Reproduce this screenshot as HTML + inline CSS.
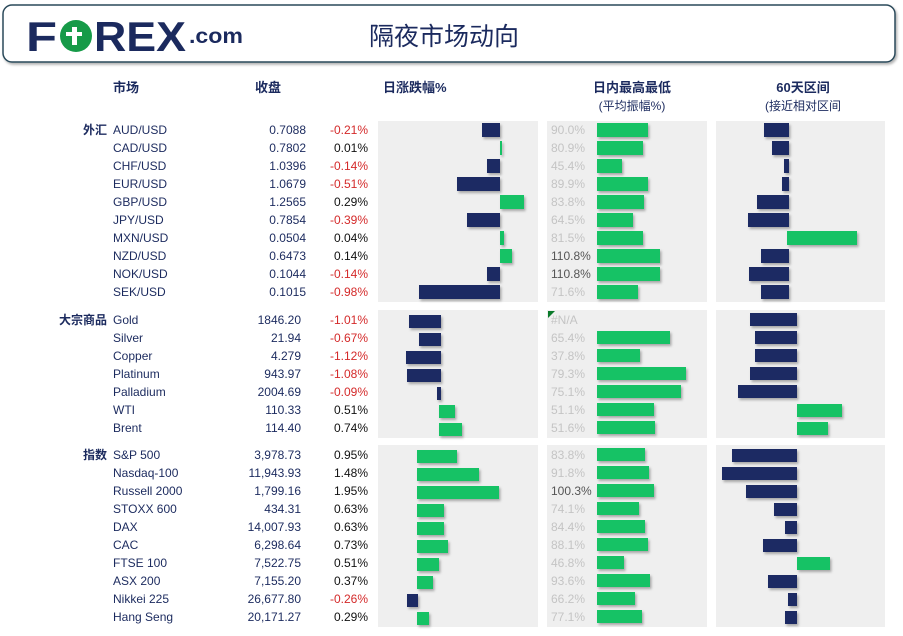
<!DOCTYPE html>
<html><head><meta charset="utf-8"><style>
body{margin:0;background:#fff;width:903px;height:636px;overflow:hidden}
svg{display:block;font-family:"Liberation Sans","Noto Sans CJK SC",sans-serif}
.n{fill:#1b2a5e;font-size:12px}
.v{fill:#1b2a5e;font-size:12px;text-anchor:end}
.r{fill:#d42a2a;font-size:12px;text-anchor:end}
.k{fill:#111;font-size:12px;text-anchor:end}
.p{fill:#c4c4c4;font-size:12px}
.pd{fill:#555;font-size:12px}
.h{fill:#1b2a5e;font-size:13px;font-weight:bold}
.b{fill:#1b2a63}.g{fill:#13c265}
</style></head><body>
<svg width="903" height="636" viewBox="0 0 903 636">
<defs><filter id="s" x="-20%" y="-30%" width="150%" height="180%"><feDropShadow dx="1.5" dy="2" stdDeviation="1.2" flood-color="#000" flood-opacity="0.3"/></filter></defs>
<rect x="3" y="5" width="892" height="57" rx="9" fill="#fff" stroke="#2b4a5a" stroke-width="1.5" filter="url(#s)"/>
<text x="26" y="51" font-size="42" font-weight="900" fill="#1b2a5e" textLength="31" lengthAdjust="spacingAndGlyphs">F</text>
<circle cx="76" cy="36" r="16" fill="#169a48"/>
<rect x="72" y="27" width="5" height="18" fill="#fff"/><rect x="66" y="32" width="16" height="4" fill="#fff"/>
<text x="94" y="51" font-size="42" font-weight="900" fill="#1b2a5e" textLength="92" lengthAdjust="spacingAndGlyphs">REX</text>
<text x="189" y="43" font-size="21" font-weight="bold" fill="#1b2a5e" textLength="54" lengthAdjust="spacingAndGlyphs">.com</text>
<text x="369" y="45" font-size="25" fill="#1b2a5e">隔夜市场动向</text>
<text x="113" y="92" class="h">市场</text>
<text x="255" y="92" class="h">收盘</text>
<text x="383" y="92" class="h">日涨跌幅%</text>
<text x="632" y="92" class="h" text-anchor="middle">日内最高最低</text>
<text x="632" y="110" class="n" text-anchor="middle">(平均振幅%)</text>
<text x="803" y="92" class="h" text-anchor="middle">60天区间</text>
<text x="803" y="110" class="n" text-anchor="middle">(接近相对区间</text>
<g fill="#efefef">
<rect x="378" y="121" width="160" height="181"/><rect x="547" y="121" width="160" height="181"/><rect x="716" y="121" width="169" height="181"/>
<rect x="378" y="310" width="160" height="128"/><rect x="547" y="310" width="160" height="128"/><rect x="716" y="310" width="169" height="128"/>
<rect x="378" y="445" width="160" height="182"/><rect x="547" y="445" width="160" height="182"/><rect x="716" y="445" width="169" height="182"/>
</g>
<text x="107" y="134" class="v" font-weight="bold">外汇</text>
<text x="107" y="324" class="v" font-weight="bold">大宗商品</text>
<text x="107" y="459" class="v" font-weight="bold">指数</text>
<g>
<text x="113" y="134" class="n">AUD/USD</text><text x="306" y="134" class="v">0.7088</text><text x="368" y="134" class="r">-0.21%</text>
<text x="113" y="152" class="n">CAD/USD</text><text x="306" y="152" class="v">0.7802</text><text x="368" y="152" class="k">0.01%</text>
<text x="113" y="170" class="n">CHF/USD</text><text x="306" y="170" class="v">1.0396</text><text x="368" y="170" class="r">-0.14%</text>
<text x="113" y="188" class="n">EUR/USD</text><text x="306" y="188" class="v">1.0679</text><text x="368" y="188" class="r">-0.51%</text>
<text x="113" y="206" class="n">GBP/USD</text><text x="306" y="206" class="v">1.2565</text><text x="368" y="206" class="k">0.29%</text>
<text x="113" y="224" class="n">JPY/USD</text><text x="306" y="224" class="v">0.7854</text><text x="368" y="224" class="r">-0.39%</text>
<text x="113" y="242" class="n">MXN/USD</text><text x="306" y="242" class="v">0.0504</text><text x="368" y="242" class="k">0.04%</text>
<text x="113" y="260" class="n">NZD/USD</text><text x="306" y="260" class="v">0.6473</text><text x="368" y="260" class="k">0.14%</text>
<text x="113" y="278" class="n">NOK/USD</text><text x="306" y="278" class="v">0.1044</text><text x="368" y="278" class="r">-0.14%</text>
<text x="113" y="296" class="n">SEK/USD</text><text x="306" y="296" class="v">0.1015</text><text x="368" y="296" class="r">-0.98%</text>
<text x="113" y="324" class="n">Gold</text><text x="301" y="324" class="v">1846.20</text><text x="368" y="324" class="r">-1.01%</text>
<text x="113" y="342" class="n">Silver</text><text x="301" y="342" class="v">21.94</text><text x="368" y="342" class="r">-0.67%</text>
<text x="113" y="360" class="n">Copper</text><text x="301" y="360" class="v">4.279</text><text x="368" y="360" class="r">-1.12%</text>
<text x="113" y="378" class="n">Platinum</text><text x="301" y="378" class="v">943.97</text><text x="368" y="378" class="r">-1.08%</text>
<text x="113" y="396" class="n">Palladium</text><text x="301" y="396" class="v">2004.69</text><text x="368" y="396" class="r">-0.09%</text>
<text x="113" y="414" class="n">WTI</text><text x="301" y="414" class="v">110.33</text><text x="368" y="414" class="k">0.51%</text>
<text x="113" y="432" class="n">Brent</text><text x="301" y="432" class="v">114.40</text><text x="368" y="432" class="k">0.74%</text>
<text x="113" y="459" class="n">S&amp;P 500</text><text x="301" y="459" class="v">3,978.73</text><text x="368" y="459" class="k">0.95%</text>
<text x="113" y="477" class="n">Nasdaq-100</text><text x="301" y="477" class="v">11,943.93</text><text x="368" y="477" class="k">1.48%</text>
<text x="113" y="495" class="n">Russell 2000</text><text x="301" y="495" class="v">1,799.16</text><text x="368" y="495" class="k">1.95%</text>
<text x="113" y="513" class="n">STOXX 600</text><text x="301" y="513" class="v">434.31</text><text x="368" y="513" class="k">0.63%</text>
<text x="113" y="531" class="n">DAX</text><text x="301" y="531" class="v">14,007.93</text><text x="368" y="531" class="k">0.63%</text>
<text x="113" y="549" class="n">CAC</text><text x="301" y="549" class="v">6,298.64</text><text x="368" y="549" class="k">0.73%</text>
<text x="113" y="567" class="n">FTSE 100</text><text x="301" y="567" class="v">7,522.75</text><text x="368" y="567" class="k">0.51%</text>
<text x="113" y="585" class="n">ASX 200</text><text x="301" y="585" class="v">7,155.20</text><text x="368" y="585" class="k">0.37%</text>
<text x="113" y="603" class="n">Nikkei 225</text><text x="301" y="603" class="v">26,677.80</text><text x="368" y="603" class="r">-0.26%</text>
<text x="113" y="621" class="n">Hang Seng</text><text x="301" y="621" class="v">20,171.27</text><text x="368" y="621" class="k">0.29%</text>
</g>
<g filter="url(#s)">
<rect class="b" x="482" y="123" width="18" height="14"/><rect class="g" x="500" y="141" width="2" height="14"/>
<rect class="b" x="487" y="159" width="13" height="14"/><rect class="b" x="457" y="177" width="43" height="14"/>
<rect class="g" x="500" y="195" width="24" height="14"/><rect class="b" x="467" y="213" width="33" height="14"/>
<rect class="g" x="500" y="231" width="4" height="14"/><rect class="g" x="500" y="249" width="12" height="14"/>
<rect class="b" x="487" y="267" width="13" height="14"/><rect class="b" x="419" y="285" width="81" height="14"/>
<rect class="b" x="409" y="315" width="32" height="13"/><rect class="b" x="419" y="333" width="22" height="13"/>
<rect class="b" x="406" y="351" width="35" height="13"/><rect class="b" x="407" y="369" width="34" height="13"/>
<rect class="b" x="437" y="387" width="4" height="13"/><rect class="g" x="439" y="405" width="16" height="13"/>
<rect class="g" x="439" y="423" width="23" height="13"/>
<rect class="g" x="417" y="450" width="40" height="13"/><rect class="g" x="417" y="468" width="62" height="13"/>
<rect class="g" x="417" y="486" width="82" height="13"/><rect class="g" x="417" y="504" width="27" height="13"/>
<rect class="g" x="417" y="522" width="27" height="13"/><rect class="g" x="417" y="540" width="31" height="13"/>
<rect class="g" x="417" y="558" width="22" height="13"/><rect class="g" x="417" y="576" width="16" height="13"/>
<rect class="b" x="407" y="594" width="11" height="13"/><rect class="g" x="417" y="612" width="12" height="13"/>
<rect class="g" x="597" y="123" width="51" height="14"/><rect class="g" x="597" y="141" width="46" height="14"/>
<rect class="g" x="597" y="159" width="25" height="14"/><rect class="g" x="597" y="177" width="51" height="14"/>
<rect class="g" x="597" y="195" width="47" height="14"/><rect class="g" x="597" y="213" width="36" height="14"/>
<rect class="g" x="597" y="231" width="46" height="14"/><rect class="g" x="597" y="249" width="63" height="14"/>
<rect class="g" x="597" y="267" width="63" height="14"/><rect class="g" x="597" y="285" width="41" height="14"/>
<rect class="g" x="597" y="331" width="73" height="13"/><rect class="g" x="597" y="349" width="43" height="13"/>
<rect class="g" x="597" y="367" width="89" height="13"/><rect class="g" x="597" y="385" width="84" height="13"/>
<rect class="g" x="597" y="403" width="57" height="13"/><rect class="g" x="597" y="421" width="58" height="13"/>
<rect class="g" x="597" y="448" width="48" height="13"/><rect class="g" x="597" y="466" width="52" height="13"/>
<rect class="g" x="597" y="484" width="57" height="13"/><rect class="g" x="597" y="502" width="42" height="13"/>
<rect class="g" x="597" y="520" width="48" height="13"/><rect class="g" x="597" y="538" width="51" height="13"/>
<rect class="g" x="597" y="556" width="27" height="13"/><rect class="g" x="597" y="574" width="53" height="13"/>
<rect class="g" x="597" y="592" width="38" height="13"/><rect class="g" x="597" y="610" width="45" height="13"/>
<rect class="b" x="764" y="123" width="25" height="14"/><rect class="b" x="772" y="141" width="17" height="14"/>
<rect class="b" x="784" y="159" width="5" height="14"/><rect class="b" x="782" y="177" width="7" height="14"/>
<rect class="b" x="757" y="195" width="32" height="14"/><rect class="b" x="748" y="213" width="41" height="14"/>
<rect class="g" x="787" y="231" width="70" height="14"/><rect class="b" x="761" y="249" width="28" height="14"/>
<rect class="b" x="749" y="267" width="40" height="14"/><rect class="b" x="761" y="285" width="28" height="14"/>
<rect class="b" x="750" y="313" width="47" height="13"/><rect class="b" x="755" y="331" width="42" height="13"/>
<rect class="b" x="755" y="349" width="42" height="13"/><rect class="b" x="750" y="367" width="47" height="13"/>
<rect class="b" x="738" y="385" width="59" height="13"/><rect class="g" x="797" y="404" width="45" height="13"/>
<rect class="g" x="797" y="422" width="31" height="13"/>
<rect class="b" x="732" y="449" width="65" height="13"/><rect class="b" x="722" y="467" width="75" height="13"/>
<rect class="b" x="746" y="485" width="51" height="13"/><rect class="b" x="774" y="503" width="23" height="13"/>
<rect class="b" x="785" y="521" width="12" height="13"/><rect class="b" x="763" y="539" width="34" height="13"/>
<rect class="g" x="797" y="557" width="33" height="13"/><rect class="b" x="768" y="575" width="29" height="13"/>
<rect class="b" x="788" y="593" width="9" height="13"/><rect class="b" x="785" y="611" width="12" height="13"/>
</g>
<text x="551" y="134" class="p">90.0%</text><text x="551" y="152" class="p">80.9%</text>
<text x="551" y="170" class="p">45.4%</text><text x="551" y="188" class="p">89.9%</text>
<text x="551" y="206" class="p">83.8%</text><text x="551" y="224" class="p">64.5%</text>
<text x="551" y="242" class="p">81.5%</text><text x="551" y="260" class="pd">110.8%</text>
<text x="551" y="278" class="pd">110.8%</text><text x="551" y="296" class="p">71.6%</text>
<polygon points="548,311 555,311 548,318" fill="#0a7a2a"/>
<text x="551" y="324" class="p">#N/A</text>
<text x="551" y="342" class="p">65.4%</text><text x="551" y="360" class="p">37.8%</text>
<text x="551" y="378" class="p">79.3%</text><text x="551" y="396" class="p">75.1%</text>
<text x="551" y="414" class="p">51.1%</text><text x="551" y="432" class="p">51.6%</text>
<text x="551" y="459" class="p">83.8%</text><text x="551" y="477" class="p">91.8%</text>
<text x="551" y="495" class="pd">100.3%</text><text x="551" y="513" class="p">74.1%</text>
<text x="551" y="531" class="p">84.4%</text><text x="551" y="549" class="p">88.1%</text>
<text x="551" y="567" class="p">46.8%</text><text x="551" y="585" class="p">93.6%</text>
<text x="551" y="603" class="p">66.2%</text><text x="551" y="621" class="p">77.1%</text>
</svg>
</body></html>
